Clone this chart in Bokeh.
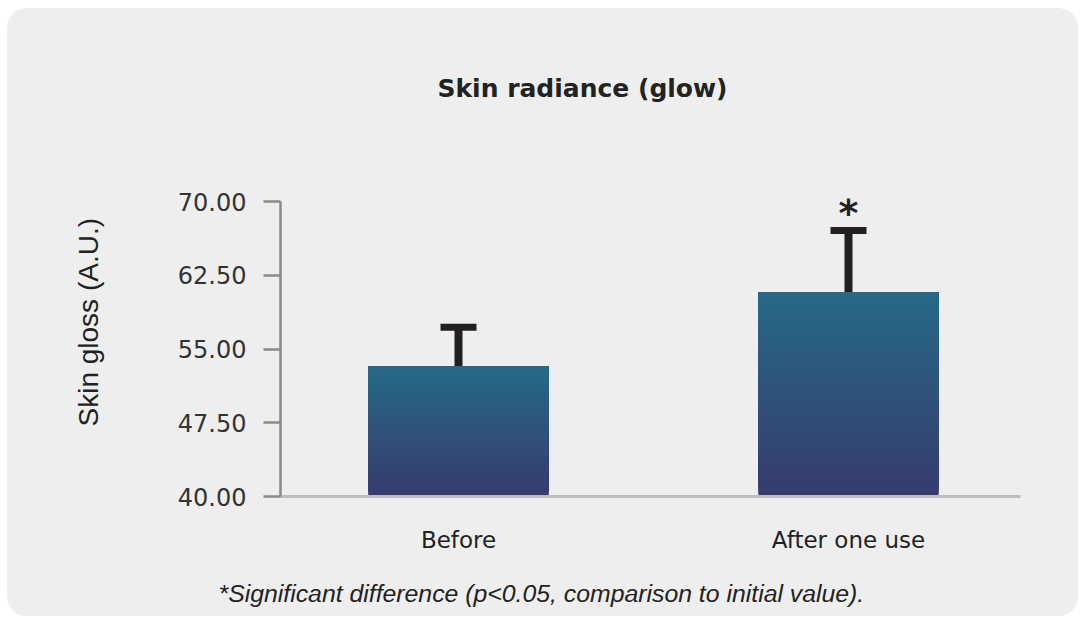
import numpy as np
from bokeh.plotting import figure
from bokeh.models import (Range1d, FixedTicker, NumeralTickFormatter, ColumnDataSource,
                          Whisker, TeeHead, Title, Label)
from bokeh.embed import file_html
from bokeh.resources import INLINE

# ---- data ----
categories = ["Before", "After one use"]
means = [53.2, 60.75]
errors = [4.0, 6.3]
significant = ["", "*"]
y_ticks = [40.0, 47.5, 55.0, 62.5, 70.0]
title_text = "Skin radiance (glow)"
y_label_text = "Skin gloss (A.U.)"
footnote_text = "*Significant difference (p<0.05, comparison to initial value)."

# ---- styles ----
TOP_COLOR = (39, 106, 135)
BOTTOM_COLOR = (54, 59, 110)
BG = "#eeeeee"
FONT = "DejaVu Sans"

W, H = 1071, 608
y0, y1 = y_ticks[0], y_ticks[-1]
x_start, x_end = 0.0436, 1.941

# page geometry of the value axis (70 at y=201px, 40 at y=496px); frame reaches up to y=48px
PX_PER_Y = 295 / (y1 - y0)
FRAME_TOP_PX = 48
y_end = y1 + (201 - FRAME_TOP_PX) / PX_PER_Y

p = figure(width=W, height=H, output_backend="svg", toolbar_location=None,
           x_range=Range1d(x_start, x_end), y_range=Range1d(y0, y_end),
           min_border_left=273, min_border_right=58, min_border_top=FRAME_TOP_PX - 8,
           min_border_bottom=120)
p.styles = {"margin-left": "7px", "margin-top": "8px", "border-radius": "20px", "overflow": "hidden",
            "background-color": BG}
p.background_fill_color = BG
p.border_fill_color = BG
p.outline_line_color = None
p.grid.visible = False

xs = [i + 0.5 for i in range(len(categories))]
bar_w = 0.4615

# gradient bars: overlapping slices, each from its level to the bar top
N = 80
left, right, bottom, top, color = [], [], [], [], []
for x, m in zip(xs, means):
    for k in range(N):
        t = k / N
        b = y0 + (m - y0) * t
        c = tuple(int(round(BOTTOM_COLOR[j] + (TOP_COLOR[j] - BOTTOM_COLOR[j]) * t)) for j in range(3))
        left.append(x - bar_w / 2); right.append(x + bar_w / 2)
        bottom.append(b); top.append(m)
        color.append("#%02x%02x%02x" % c)
p.quad(left=left, right=right, bottom=bottom, top=top, fill_color=color, line_color=None)

src = ColumnDataSource(dict(x=xs, mean=means, upper=[m + e for m, e in zip(means, errors)], sig=significant))
wh = Whisker(source=src, base="x", lower="mean", upper="upper", line_color="#231f20", line_width=8,
             upper_head=TeeHead(size=36, line_width=7, line_color="#231f20"), lower_head=None)
p.add_layout(wh)

p.text(x="x", y="upper", text="sig", source=src, text_align="center", text_baseline="alphabetic",
       y_offset=-18, text_font={"value": FONT}, text_font_style="bold", text_font_size="38px",
       text_color="#231f20")

# y axis
p.yaxis.ticker = FixedTicker(ticks=y_ticks)
p.yaxis.bounds = (y0, y1)
p.yaxis.formatter = NumeralTickFormatter(format="0.00")
p.yaxis.axis_line_color = "#8a8a8a"
p.yaxis.axis_line_width = 2.5
p.yaxis.major_tick_line_color = "#8a8a8a"
p.yaxis.major_tick_line_width = 2.5
p.yaxis.major_tick_out = 17
p.yaxis.major_tick_in = 0
p.yaxis.minor_tick_line_color = None
p.yaxis.major_label_standoff = 17
p.yaxis.major_label_text_font = FONT
p.yaxis.major_label_text_font_size = "24px"
p.yaxis.major_label_text_color = "#333333"

# x axis
p.xaxis.ticker = FixedTicker(ticks=xs)
p.xaxis.major_label_overrides = {x: c for x, c in zip(xs, categories)}
p.xaxis.axis_line_color = "#bdbdbd"
p.xaxis.axis_line_width = 3
p.xaxis.major_tick_line_color = None
p.xaxis.minor_tick_line_color = None
p.xaxis.major_tick_out = 0
p.xaxis.major_tick_in = 0
p.xaxis.major_label_standoff = 30
p.xaxis.major_label_text_font = FONT
p.xaxis.major_label_text_font_size = "23px"
p.xaxis.major_label_text_color = "#222222"

# chart title (inside the upper part of the frame)
px_per_x = 740 / (x_end - x_start)
p.add_layout(Label(x=x_start + (582 - 280) / px_per_x, y=y1 + (201 - 88) / PX_PER_Y,
                   text=title_text, text_align="center", text_baseline="middle",
                   text_font=FONT, text_font_style="bold", text_font_size="25px", text_color="#222222"))

p.add_layout(Title(text=y_label_text + "\n", align="left", offset=70, standoff=80,
                   text_font="Liberation Sans", text_font_style="normal", text_font_size="28px",
                   text_line_height=1.0, text_color="#222222"), "left")
p.add_layout(Title(text="\n" + footnote_text, align="left", offset=-62, standoff=0,
                   text_font="Liberation Sans", text_font_style="italic", text_font_size="24.8px",
                   text_line_height=0.85, text_color="#222222"), "below")

open("out.html", "w").write(file_html(p, INLINE))
